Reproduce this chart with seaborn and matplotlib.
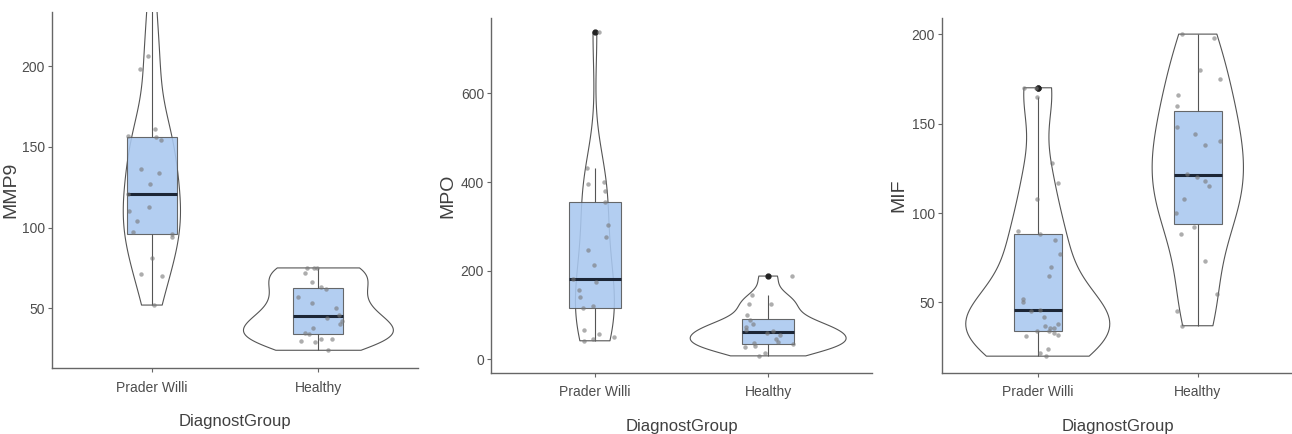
import numpy as np
import pandas as pd
import seaborn as sns
import matplotlib.pyplot as plt

groups = ['Prader Willi', 'Healthy']

# values
mmp9_pw = [52, 70, 71, 81, 94, 96, 97, 104, 110, 113, 121, 127, 134, 136, 154, 156, 157, 161, 198, 206, 240]
mmp9_h = [24, 29, 30, 31, 31, 34, 35, 38, 40, 42, 44, 46, 50, 53, 57, 62, 63, 66, 72, 75, 75, 75]

mpo_pw = [42, 45, 50, 58, 66, 115, 120, 140, 156, 175, 182, 213, 246, 277, 303, 354, 380, 395, 400, 431, 738]
mpo_h = [8, 15, 28, 30, 35, 36, 40, 45, 55, 60, 64, 66, 72, 80, 88, 100, 125, 125, 145, 188]

mif_pw = [20, 22, 24, 31, 32, 33, 34, 34, 36, 36, 37, 38, 42, 45, 46, 50, 52, 65, 70, 77,
          85, 88, 90, 108, 117, 128, 165, 170, 170]
mif_h = [37, 45, 55, 73, 88, 92, 100, 108, 115, 118, 120, 122, 138, 140, 144, 148, 160, 166, 175, 180, 198, 200]

panels = [
    ('MMP9', mmp9_pw, mmp9_h, (13, 233.5), [50, 100, 150, 200]),
    ('MPO', mpo_pw, mpo_h, (-30, 770), [0, 200, 400, 600]),
    ('MIF', mif_pw, mif_h, (10.6, 209), [50, 100, 150, 200]),
]

# axes boxes in figure fractions [left, bottom, width, height]
boxes = [
    [0.0402, 0.152, 0.2836, 0.8203],
    [0.3800, 0.1412, 0.2950, 0.8173],
    [0.7289, 0.1406, 0.2725, 0.8179],
]
label_x = [-0.088, -0.092, -0.098]


def nrd0(kde):
    # R's default bandwidth, as a factor of the sample sd
    x = kde.dataset.ravel()
    sd = np.std(x, ddof=1)
    q75, q25 = np.percentile(x, [75, 25])
    lo = min(sd, (q75 - q25) / 1.34)
    return 0.9 * lo * len(x) ** -0.2 / sd


sns.set_theme(style='white')
plt.rcParams['font.family'] = ['Liberation Sans', 'DejaVu Sans']

fig = plt.figure(figsize=(12.92, 4.34), dpi=100)
np.random.seed(3)

for (name, pw, h, ylim, yticks), box, lx in zip(panels, boxes, label_x):
    ax = fig.add_axes(box)
    df = pd.DataFrame({
        'DiagnostGroup': [groups[0]] * len(pw) + [groups[1]] * len(h),
        name: pw + h,
    })
    sns.violinplot(data=df, x='DiagnostGroup', y=name, order=groups, cut=0, inner=None,
                   width=0.9, fill=False, color='#555555', linewidth=0.8,
                   bw_method=nrd0, ax=ax)
    sns.stripplot(data=df, x='DiagnostGroup', y=name, order=groups, jitter=0.15,
                  color='#777777', alpha=0.6, size=3.2, ax=ax)
    sns.boxplot(data=df, x='DiagnostGroup', y=name, order=groups, width=0.3,
                color='#a9c8f0', saturation=1, linewidth=0.8, linecolor='#555555',
                showcaps=False,
                medianprops={'color': '#1c2636', 'linewidth': 2.2},
                flierprops={'marker': 'o', 'markersize': 3.5, 'markerfacecolor': '#222222',
                            'markeredgecolor': '#222222'},
                boxprops={'alpha': 0.88}, ax=ax)
    ax.set_xlim(-0.6, 1.6)
    ax.set_ylim(*ylim)
    ax.set_yticks(yticks)
    sns.despine(ax=ax)
    for s in ['left', 'bottom']:
        ax.spines[s].set_color('#666666')
        ax.spines[s].set_linewidth(1.0)
    ax.tick_params(axis='both', which='both', length=3, width=0.8, color='#666666',
                   labelcolor='#4d4d4d', labelsize=10, left=True, bottom=True)
    ax.tick_params(axis='y', pad=2)
    ax.tick_params(axis='x', pad=6)
    ax.set_xlabel('DiagnostGroup', fontsize=12, color='#404040', labelpad=14)
    ax.set_ylabel(name, fontsize=14, color='#404040')
    ax.yaxis.set_label_coords(lx, 0.5)

fig.savefig('out.png', dpi=100)
